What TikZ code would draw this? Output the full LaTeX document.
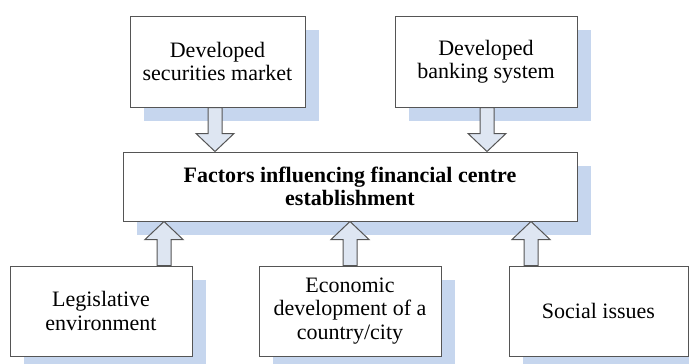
\documentclass[tikz,border=0pt]{standalone}
\usepackage{fontspec}
\setmainfont{Liberation Serif}
\usetikzlibrary{shadows,calc}
\definecolor{shadowblue}{RGB}{198,214,238}
\definecolor{arrowfill}{RGB}{222,230,242}
\definecolor{edgegray}{RGB}{85,85,85}
\tikzset{
factor/.style={
	draw=edgegray, line width=0.75pt, fill=white, align=center,
	inner sep=0pt, minimum height=67.5pt, minimum width=136.5pt,
	font=\fontsize{16.5}{17.5}\selectfont,
	drop shadow={shadow xshift=10.5pt, shadow yshift=-10.5pt,
		fill=shadowblue, opacity=1}},
blockarrow/.style={draw=edgegray, line width=0.75pt, fill=arrowfill}
}
% hollow block arrow from (#1) to (#2), vertical
\newcommand{\blockarr}[2]{
	\draw[blockarrow] let \p1=(#1), \p2=(#2), \n1={(\y2>\y1)*2-1} in
	(\x1-5.25pt,\y1) -- (\x1-5.25pt,\y2-\n1*13.5pt)
	-- (\x1-14.25pt,\y2-\n1*13.5pt) -- (\x1,\y2)
	-- (\x1+14.25pt,\y2-\n1*13.5pt) -- (\x1+5.25pt,\y2-\n1*13.5pt)
	-- (\x1+5.25pt,\y1) -- cycle;
}

\begin{document}
\begin{tikzpicture}[x=0.75pt, y=-0.75pt]
	\useasboundingbox[fill=white] (0,0) rectangle (689,364);
	% top row
	\node[factor, minimum width=131.25pt, minimum height=68.25pt] (sec) at (217.5,61.5)
		{Developed\\securities market};
	\node[factor, minimum height=68.25pt] (bank) at (486,61.5)
		{Developed\\banking system};
	% centre
	\node[factor, minimum width=340.5pt, minimum height=51.75pt,
		font=\bfseries\fontsize{16.5}{17.5}\selectfont] (centre) at (350,186.5)
		{Factors influencing financial centre\\establishment};
	% bottom row
	\node[factor] (legis) at (101,311) {Legislative\\environment};
	\node[factor] (econ) at (350,311)
		{Economic\\development of a\\country/city};
	\node[factor, minimum width=134.25pt] (social) at (598.5,311) {Social issues};
	% arrows
	\coordinate (a1) at (215,0 |- sec.south);
	\coordinate (a2) at (487,0 |- bank.south);
	\coordinate (a3) at (164,0 |- legis.north);
	\coordinate (a4) at (350,0 |- econ.north);
	\coordinate (a5) at (531,0 |- social.north);
	\blockarr{a1}{a1 |- centre.north}
	\blockarr{a2}{a2 |- centre.north}
	\blockarr{a3}{a3 |- centre.south}
	\blockarr{a4}{a4 |- centre.south}
	\blockarr{a5}{a5 |- centre.south}
\end{tikzpicture}
\end{document}
